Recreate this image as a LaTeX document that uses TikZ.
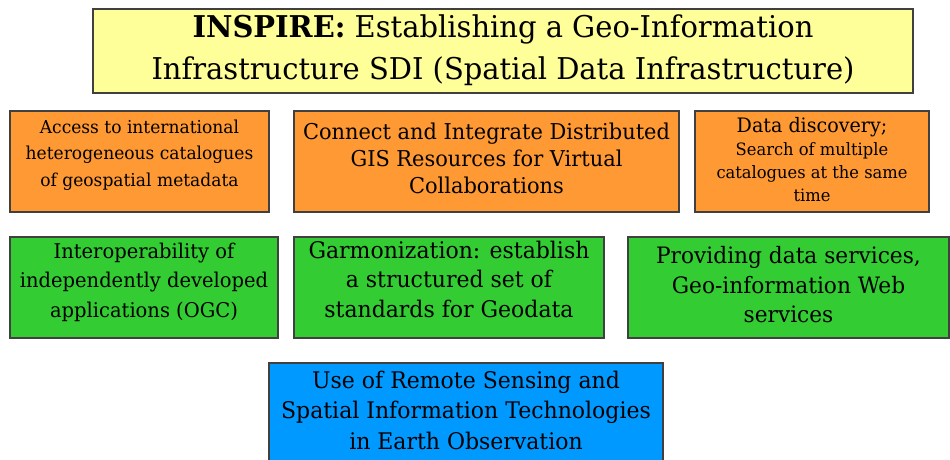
\documentclass[tikz,border=0pt]{standalone}
\usepackage{fontspec}
\setmainfont{DejaVu Serif}[FakeStretch=0.96]
\newfontfamily\titlefont{DejaVu Serif}[FakeStretch=0.965]

\definecolor{titlefill}{HTML}{FFFF99}
\definecolor{orangefill}{HTML}{FF9933}
\definecolor{greenfill}{HTML}{33CC33}
\definecolor{bluefill}{HTML}{0099FF}
\definecolor{edge}{HTML}{404040}

% #1 width, #2 height, #3 gap above the first line, #4 font size, #5 line skip, #6 lines
\newcommand{\panel}[6]{%
  \parbox[c][#2][t]{#1}{\fontsize{#4}{#5}\selectfont\centering
    \vspace*{#3}\rule{0pt}{0.8em}#6\par}}

\tikzset{
  card/.style={draw=edge, line width=1.3pt, inner sep=0pt, outer sep=0pt, rectangle},
  headcard/.style={card, fill=titlefill},
  orangecard/.style={card, fill=orangefill},
  greencard/.style={card, fill=greenfill},
  bluecard/.style={card, fill=bluefill},
}

\begin{document}
\begin{tikzpicture}[x=1pt,y=-1pt]
\clip (0,0) rectangle (950,459);
\fill[white] (0,0) rectangle (950,459);

% heading
\node[headcard] (head) at (503,51)
  {\panel{820pt}{84pt}{4.5pt}{30pt}{41.5pt}{\titlefont\textbf{INSPIRE:} Establishing a Geo-Information\\
   Infrastructure SDI (Spatial Data Infrastructure)}};

% first row
\node[orangecard] (access) at (139.5,161.5)
  {\panel{259pt}{101pt}{7.8pt}{17.8pt}{26.5pt}{Access to international\\
   heterogeneous catalogues\\ of geospatial metadata}};
\node[orangecard] (connect) at (486.5,161.5)
  {\panel{385pt}{101pt}{10.6pt}{21.8pt}{27pt}{Connect and Integrate Distributed\\
   GIS Resources for Virtual\\ Collaborations}};
\node[orangecard] (discovery) at (812,161.5)
  {\panel{234pt}{101pt}{5.1pt}{19.9pt}{25pt}{Data discovery;\\
   {\fontsize{17pt}{23pt}\selectfont Search of multiple\\ catalogues at the same\\ time\par}}};

% second row
\node[greencard] (interop) at (144,287.5)
  {\panel{268pt}{101pt}{4.8pt}{20.3pt}{29.5pt}{Interoperability of\\
   independently developed\\ applications (OGC)}};
\node[greencard] (garmon) at (449,287.5)
  {\panel{310pt}{101pt}{2.7pt}{22.9pt}{29.5pt}{Garmonization: establish\\
   a structured set of\\ standards for Geodata}};
\node[greencard] (services) at (788.5,287.5)
  {\panel{321pt}{101pt}{8.9pt}{22.6pt}{29.5pt}{Providing data services,\\
   Geo-information Web\\ services}};

% bottom
\node[bluecard] (remote) at (466,414)
  {\panel{394pt}{102pt}{6.7pt}{22.9pt}{30.5pt}{Use of Remote Sensing and\\
   Spatial Information Technologies\\ in Earth Observation}};
\end{tikzpicture}
\end{document}
